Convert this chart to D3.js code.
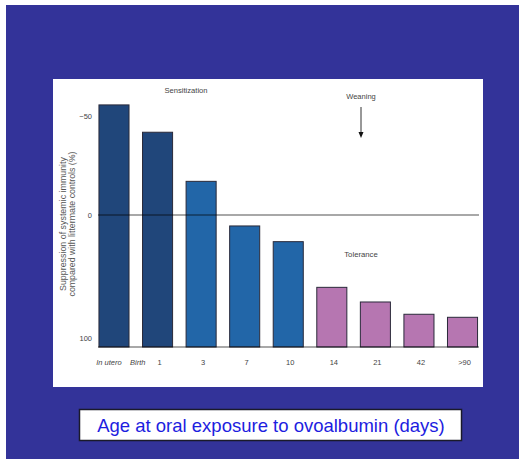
<!DOCTYPE html>
<html><head><meta charset="utf-8">
<script src="https://cdn.jsdelivr.net/npm/d3@7"></script>
<style>html,body{margin:0;padding:0;background:#fff;}svg{display:block;}</style>
</head><body>
<div id="chart"></div>
<script>
const categories = ["In utero","1","3","7","10","14","21","42",">90"];
const values = [-55.6, -41.8, -17, 8.3, 20.2, 54.8, 65.9, 75.2, 77.5];
const phases = ["sens","sens","mid","mid","mid","tol","tol","tol","tol"];
const xLabels = ["In utero","Birth","1","3","7","10","14","21","42",">90"];
const yTicks = [-50, 0, 100];
const phaseColors = {sens:"#20467a", mid:"#2266a8", tol:"#b676b1"};

const W = 519, H = 459;
const svg = d3.select("#chart").append("svg").attr("width", W).attr("height", H);
svg.append("rect").attr("x",0).attr("y",0).attr("width",W).attr("height",H).attr("fill","#fff");
svg.append("rect").attr("x",6).attr("y",5).attr("width",W-6).attr("height",H-5).attr("fill","#333399");
svg.append("rect").attr("x",53).attr("y",79).attr("width",430).attr("height",308).attr("fill","#fff");

const x = d3.scaleBand().domain(categories).range([92.2, 484.3]).paddingInner(0.31).paddingOuter(0.155);
const y = d3.scaleLinear().domain([-50, 0, 100]).range([116, 215, 347]);

const g = svg.append("g");
g.selectAll("rect.bar").data(categories).join("rect")
  .attr("class","bar")
  .attr("x", d => x(d))
  .attr("width", x.bandwidth())
  .attr("y", (d,i) => y(values[i]))
  .attr("height", (d,i) => y(100) - y(values[i]))
  .attr("fill", (d,i) => phaseColors[phases[i]])
  .attr("stroke", "#2a2a3a").attr("stroke-width", 1);

// zero line and baseline
g.append("line").attr("x1",98).attr("x2",479).attr("y1",y(0)).attr("y2",y(0))
  .attr("stroke","#000").attr("stroke-opacity",0.34).attr("stroke-width",2);
g.append("line").attr("x1",98).attr("x2",479).attr("y1",y(100)).attr("y2",y(100))
  .attr("stroke","#000").attr("stroke-opacity",0.34).attr("stroke-width",1.8);

const font = "Liberation Sans, Arial, sans-serif";
// y tick labels
g.selectAll("text.yt").data(yTicks).join("text")
  .attr("class","yt")
  .attr("x", 92).attr("y", d => y(d) + (d===100 ? -9 : 0))
  .attr("dy","0.35em").attr("text-anchor","end")
  .attr("font-family", font).attr("font-size", 7.5).attr("fill","#444")
  .text(d => d === -50 ? "\u221250" : d);

// x labels
const bw = x.bandwidth();
function labelX(lbl, i) {
  if (lbl === "In utero") return x("In utero") + bw/2 - 5;
  if (lbl === "Birth") return (x("In utero") + bw + x("1")) / 2 + 2;
  return x(lbl) + bw/2 + 2;
}
g.selectAll("text.xl").data(xLabels).join("text")
  .attr("class","xl")
  .attr("x", (d,i) => labelX(d,i)).attr("y", 365)
  .attr("text-anchor","middle")
  .attr("font-family", font).attr("font-size", 7.5).attr("fill","#444")
  .attr("font-style", d => (d==="In utero"||d==="Birth") ? "italic" : "normal")
  .text(d => d);

// y title
const yt = g.append("g").attr("transform","translate(66,224) rotate(-90)");
yt.append("text").attr("x",0).attr("y",0).attr("text-anchor","middle")
  .attr("font-family", font).attr("font-size", 8.5).attr("fill","#555")
  .attr("textLength",134).attr("lengthAdjust","spacingAndGlyphs")
  .text("Suppression of systemic immunity");
yt.append("text").attr("x",0).attr("y",8.6).attr("text-anchor","middle")
  .attr("font-family", font).attr("font-size", 8.5).attr("fill","#555")
  .attr("textLength",145).attr("lengthAdjust","spacingAndGlyphs")
  .text("compared with littermate controls (%)");

// annotations
g.append("text").attr("x",186).attr("y",93).attr("text-anchor","middle")
  .attr("font-family", font).attr("font-size", 8).attr("fill","#444")
  .attr("textLength",43).attr("lengthAdjust","spacingAndGlyphs").text("Sensitization");
g.append("text").attr("x",361).attr("y",99).attr("text-anchor","middle")
  .attr("font-family", font).attr("font-size", 8).attr("fill","#444")
  .attr("textLength",29.5).attr("lengthAdjust","spacingAndGlyphs").text("Weaning");
g.append("text").attr("x",361).attr("y",257).attr("text-anchor","middle")
  .attr("font-family", font).attr("font-size", 8).attr("fill","#444")
  .attr("textLength",33.5).attr("lengthAdjust","spacingAndGlyphs").text("Tolerance");
g.append("line").attr("x1",361).attr("x2",361).attr("y1",107).attr("y2",133)
  .attr("stroke","#333").attr("stroke-width",1);
g.append("path").attr("d","M358.5,132 L363.5,132 L361,138 Z").attr("fill","#111");

// bottom title box
svg.append("rect").attr("x",79.5).attr("y",409.5).attr("width",382).attr("height",31)
  .attr("fill","#fff").attr("stroke","#1a1a2a").attr("stroke-width",1.5);
svg.append("text").attr("x",271).attr("y",432).attr("text-anchor","middle")
  .attr("font-family", font).attr("font-size", 18.5).attr("fill","#1d1de0")
  .text("Age at oral exposure to ovoalbumin (days)");
</script>
</body></html>
